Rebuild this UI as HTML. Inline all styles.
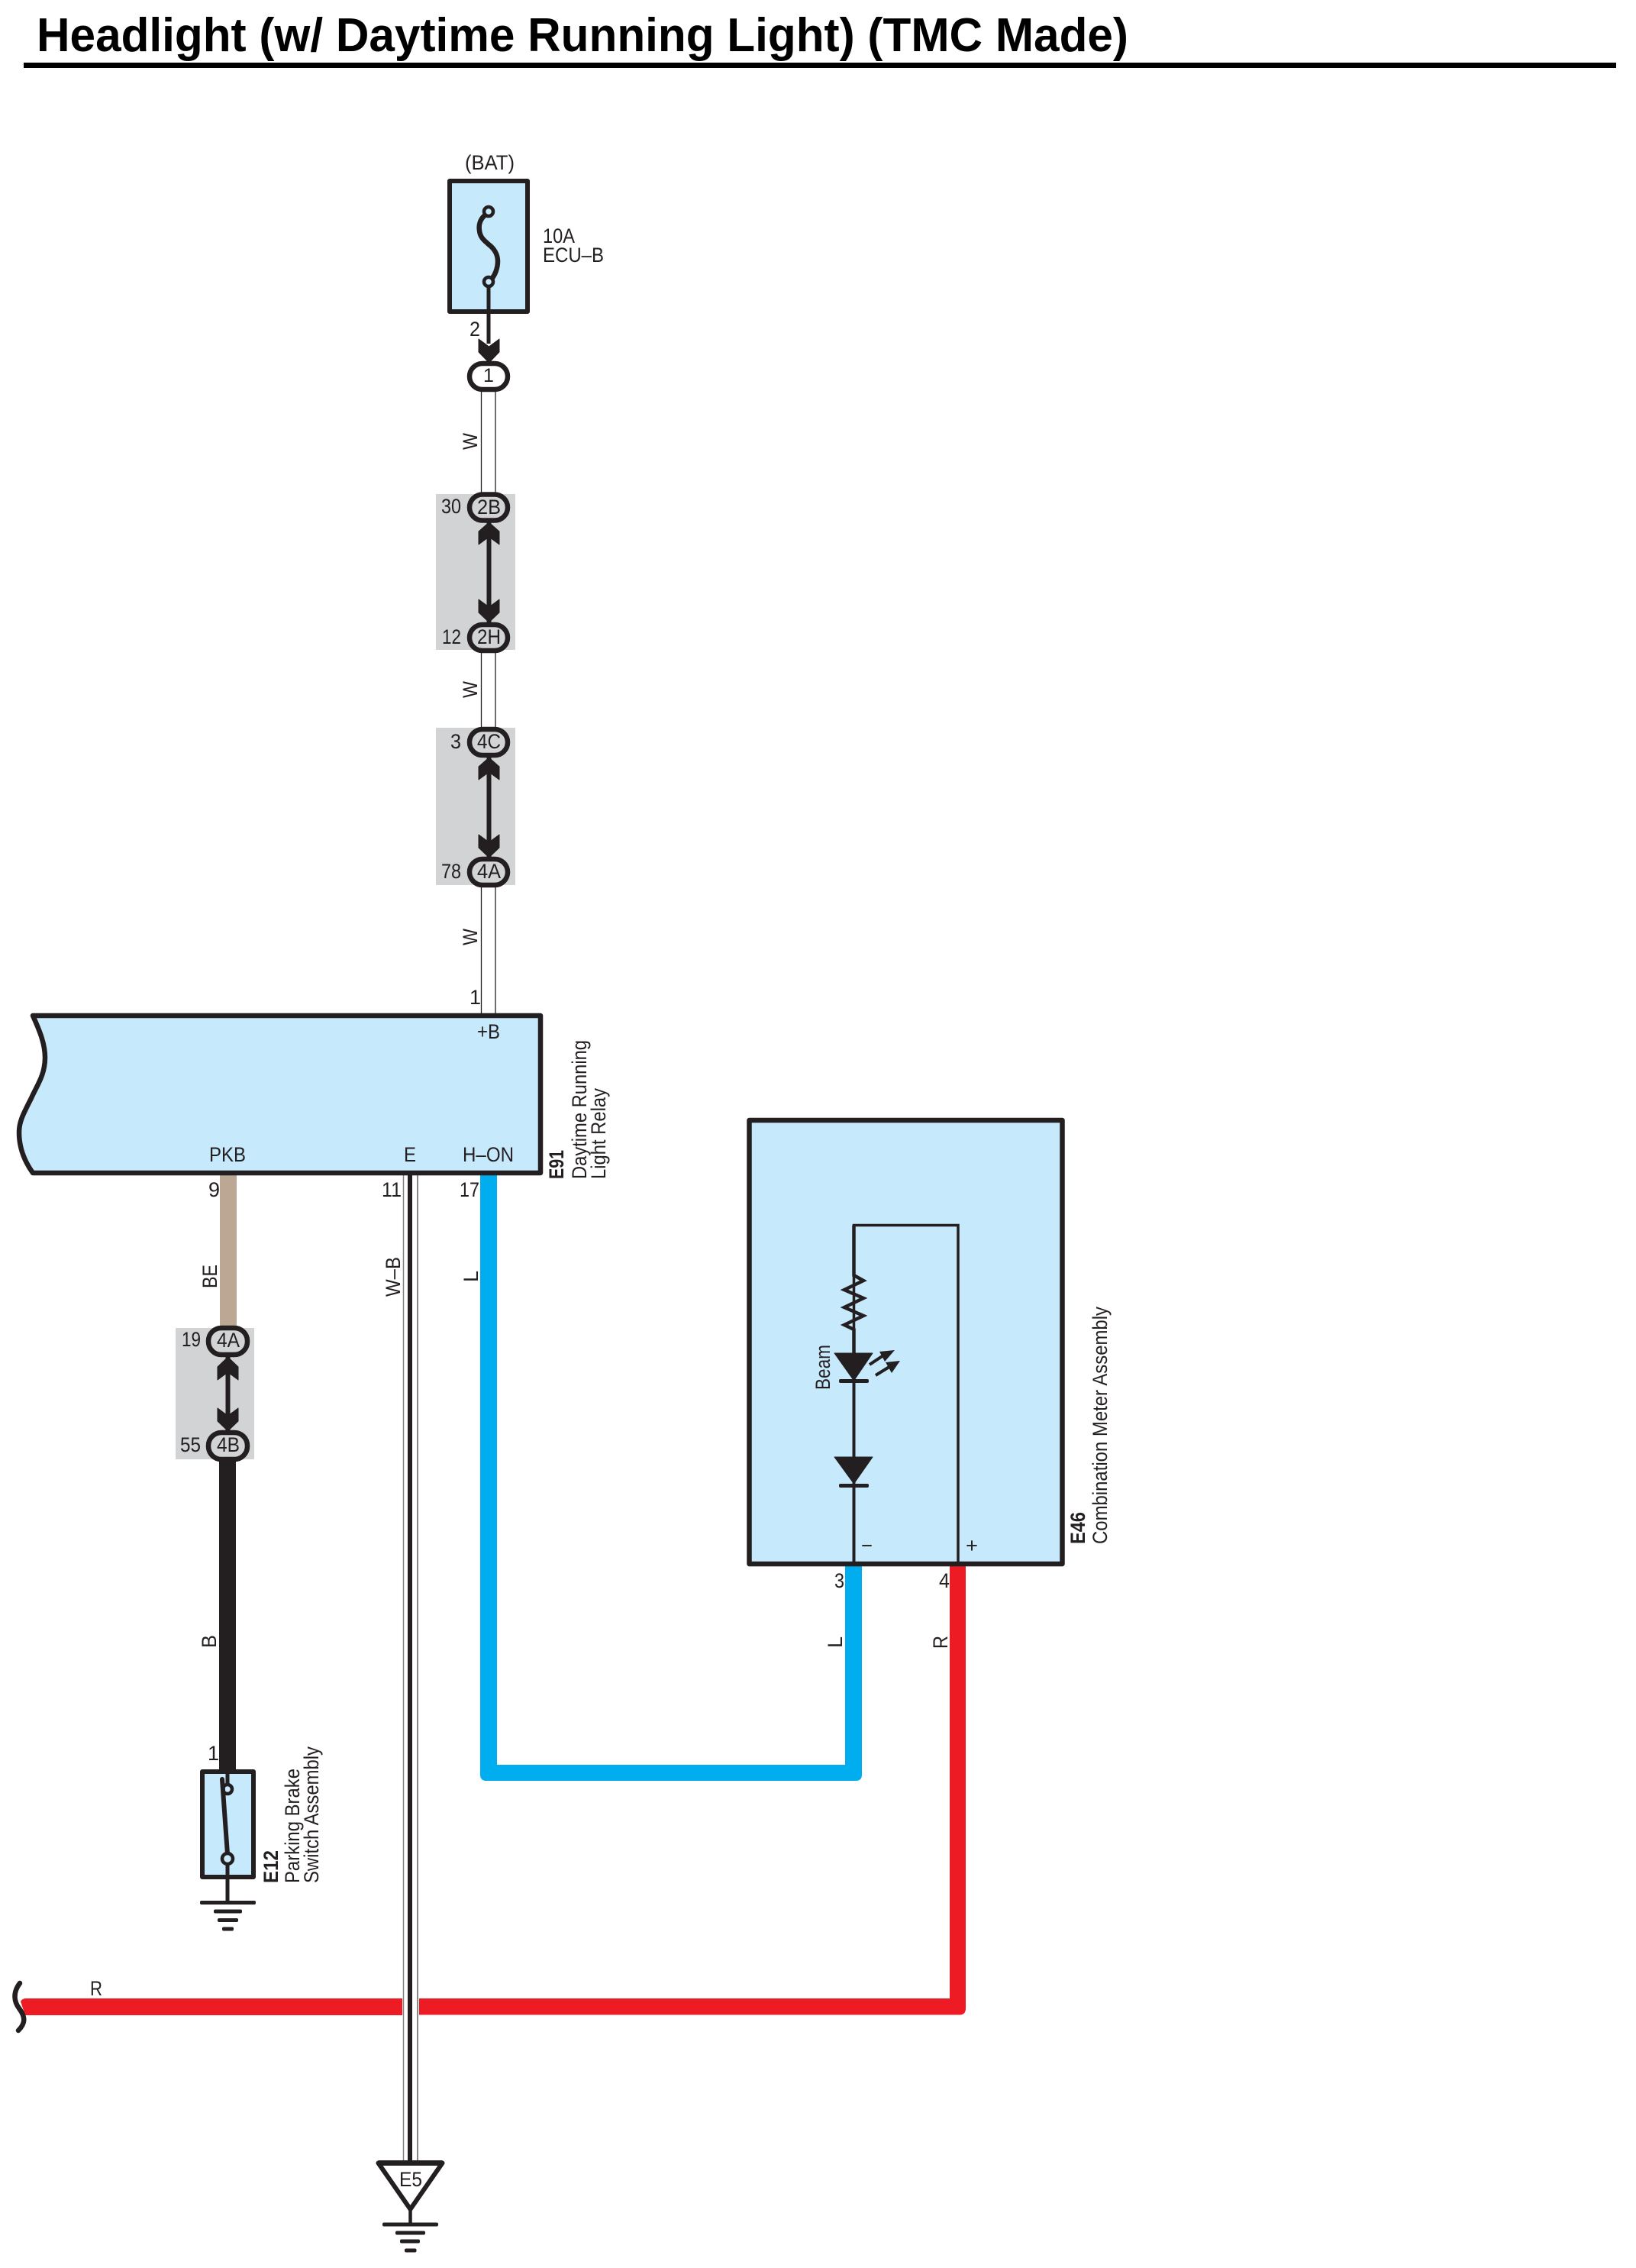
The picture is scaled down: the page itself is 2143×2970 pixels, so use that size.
<!DOCTYPE html>
<html><head><meta charset="utf-8"><style>
html,body{margin:0;padding:0;background:#fff}
svg{display:block}
text{font-family:"Liberation Sans",Arial,sans-serif;fill:#231f20;font-size:27px}
.b{font-weight:bold}
</style></head><body>
<svg width="2143" height="2970" viewBox="0 0 2143 2970" xmlns="http://www.w3.org/2000/svg">
<rect width="2143" height="2970" fill="#fff"/>
<text x="48" y="67" class="b" style="font-size:62px;fill:#000" textLength="1430" lengthAdjust="spacingAndGlyphs">Headlight (w/ Daytime Running Light) (TMC Made)</text>
<rect x="31" y="82" width="2086" height="7" fill="#000"/>

<!-- gray splice boxes -->
<rect x="571" y="647" width="104" height="204" fill="#d1d3d4"/>
<rect x="571" y="953" width="104" height="206" fill="#d1d3d4"/>
<rect x="230" y="1739" width="103" height="172" fill="#d1d3d4"/>

<!-- thin W wires -->
<g stroke="#231f20" stroke-width="1.3" fill="none">
<path d="M630.5,513V645M649,513V645M630.5,855V953M649,855V953M630.5,1162V1328M649,1162V1328"/>
</g>

<!-- wires -->
<rect x="288" y="1539" width="22" height="198" fill="#bca795"/>
<rect x="287" y="1913" width="22" height="404" fill="#231f20"/>
<path d="M629,1539V2324Q629,2332 637,2332H1121Q1129,2332 1129,2324V2051H1107V2311H651V1539Z" fill="#00aeef"/>
<path d="M549,2617H1244V2051H1265V2630Q1265,2638.5 1257,2638.5H549Z" fill="#ed1c24"/>
<path d="M27,2621Q29,2617 34,2617H527V2639H33Z" fill="#ed1c24"/>

<!-- W-B wire -->
<path d="M528.5,1539V2830" stroke="#808080" stroke-width="1.5" fill="none"/>
<path d="M547,1539V2830" stroke="#555" stroke-width="1.4" fill="none"/>
<rect x="534" y="1539" width="6" height="1291" fill="#231f20"/>

<!-- squiggle -->
<path d="M26,2597C16,2610 19,2622 25,2630C34,2642 33,2650 24,2659" fill="none" stroke="#231f20" stroke-width="6.5" stroke-linecap="round"/>

<!-- Fuse box -->
<rect x="589" y="237" width="102" height="171" fill="#c7e9fc" stroke="#231f20" stroke-width="6" stroke-linejoin="round"/>
<path d="M635,282C628,288 627,296 628,302C629,312 636,316 640,320C648,326 652,334 652,342C652,352 648,360 645,364" fill="none" stroke="#231f20" stroke-width="6.5"/>
<circle cx="640" cy="277" r="6" fill="#c7e9fc" stroke="#231f20" stroke-width="4.5"/>
<circle cx="640" cy="369" r="6" fill="#c7e9fc" stroke="#231f20" stroke-width="4.5"/>
<path d="M640,375V450" stroke="#231f20" stroke-width="5" fill="none"/>

<!-- arrows -->
<g fill="#231f20" stroke="#231f20" stroke-width="1" stroke-linejoin="round">
<path d="M627,444L640.5,454L654,444V461L640.5,475L627,461Z"/>
<rect x="638" y="684" width="5" height="131"/>
<path d="M627,713L640.5,703L654,713V696L640.5,684L627,696Z"/>
<path d="M627,785L640.5,795L654,785V802L640.5,815L627,802Z"/>
<rect x="638" y="992" width="5" height="131"/>
<path d="M627,1021L640.5,1011L654,1021V1004L640.5,992L627,1004Z"/>
<path d="M627,1093L640.5,1103L654,1093V1110L640.5,1123L627,1110Z"/>
<rect x="296" y="1777" width="5" height="97"/>
<path d="M285,1807L298.5,1797L312,1807V1790L298.5,1777L285,1790Z"/>
<path d="M285,1844L298.5,1854L312,1844V1861L298.5,1874L285,1861Z"/>
</g>

<!-- connectors -->
<g stroke="#231f20" stroke-width="6.5">
<rect x="615" y="476" width="50" height="34" rx="17" fill="#fff"/>
<rect x="615" y="647.5" width="50" height="34" rx="17" fill="#d1d3d4"/>
<rect x="615" y="818" width="50" height="34" rx="17" fill="#d1d3d4"/>
<rect x="615" y="955" width="50" height="34" rx="17" fill="#d1d3d4"/>
<rect x="615" y="1125" width="50" height="34" rx="17" fill="#d1d3d4"/>
<rect x="273" y="1739" width="51" height="35" rx="17" fill="#d1d3d4"/>
<rect x="273" y="1876" width="51" height="35" rx="17" fill="#d1d3d4"/>
</g>

<!-- E91 -->
<path d="M43,1330H708V1536H43C33,1522 25,1505 25,1483C25,1468 31,1458 41,1438C48,1422 59,1408 59,1385C59,1368 53,1352 43,1330Z" fill="#c7e9fc" stroke="#231f20" stroke-width="6.5" stroke-linejoin="round"/>

<!-- E46 -->
<rect x="981.5" y="1467" width="410" height="581" fill="#c7e9fc" stroke="#231f20" stroke-width="6.5" stroke-linejoin="round"/>
<path d="M1118.5,2045V1604.5H1255V2045" fill="none" stroke="#231f20" stroke-width="3.5"/>
<path d="M1118.5,1604.5V1670L1131,1677L1106,1689L1131,1700L1106,1712L1131,1723L1106,1735L1118.5,1741V1775" fill="none" stroke="#231f20" stroke-width="4.5"/>
<rect x="1116.5" y="1741" width="4" height="304" fill="#231f20"/>
<g fill="#231f20">
<path d="M1093,1772H1143L1118.5,1808Z" stroke="#231f20" stroke-width="1" stroke-linejoin="round"/>
<rect x="1099" y="1806" width="39" height="5" rx="2"/>
<path d="M1093,1908H1143L1118.5,1943Z" stroke="#231f20" stroke-width="1" stroke-linejoin="round"/>
<rect x="1099" y="1943" width="39" height="5" rx="2"/>
<path d="M1172,1768L1152,1770L1159,1783Z"/>
<path d="M1179,1782L1160,1784L1168,1798Z"/>
</g>
<path d="M1139,1787L1160,1773M1147,1801L1168,1788" stroke="#231f20" stroke-width="4" fill="none"/>

<!-- E12 -->
<rect x="265" y="2320" width="67" height="138" fill="#c7e9fc" stroke="#231f20" stroke-width="6" stroke-linejoin="round"/>
<path d="M298,2320V2337" stroke="#231f20" stroke-width="5" fill="none"/>
<circle cx="298" cy="2343" r="6" fill="#c7e9fc" stroke="#231f20" stroke-width="4.5"/>
<path d="M291,2330L298,2428" stroke="#231f20" stroke-width="6" fill="none" stroke-linecap="round"/>
<path d="M298,2441V2491" stroke="#231f20" stroke-width="5" fill="none"/>
<circle cx="298" cy="2434" r="7" fill="#c7e9fc" stroke="#231f20" stroke-width="4.5"/>
<g fill="#231f20">
<rect x="262" y="2489" width="73" height="5" rx="2"/>
<rect x="280" y="2500.5" width="37" height="5" rx="2"/>
<rect x="285" y="2512" width="27" height="5" rx="2"/>
<rect x="291" y="2523.5" width="15" height="5" rx="2"/>
</g>

<!-- E5 ground -->
<path d="M495.5,2832.5H579.5L537.5,2893Z" fill="#fff" stroke="#231f20" stroke-width="6" stroke-linejoin="round"/>
<path d="M495.5,2829H579.5V2836H495.5Z" fill="#231f20"/>
<path d="M537.5,2893V2913" stroke="#231f20" stroke-width="4.5" fill="none"/>
<g fill="#231f20">
<rect x="501" y="2910.5" width="73" height="5" rx="2"/>
<rect x="518" y="2921.5" width="39" height="5" rx="2"/>
<rect x="524" y="2932.5" width="26" height="5" rx="2"/>
<rect x="530" y="2944.5" width="15.5" height="5" rx="2"/>
</g>

<!-- labels -->
<text x="609" y="222" textLength="65" lengthAdjust="spacingAndGlyphs">(BAT)</text>
<text x="711" y="318" textLength="42" lengthAdjust="spacingAndGlyphs">10A</text>
<text x="711" y="343" textLength="80" lengthAdjust="spacingAndGlyphs">ECU–B</text>
<text x="615" y="440" textLength="14" lengthAdjust="spacingAndGlyphs">2</text>
<text x="640" y="500" text-anchor="middle" style="font-size:25px">1</text>
<text x="578" y="672" textLength="26" lengthAdjust="spacingAndGlyphs">30</text>
<text x="625" y="673" textLength="31" lengthAdjust="spacingAndGlyphs">2B</text>
<text x="579" y="843" textLength="25" lengthAdjust="spacingAndGlyphs">12</text>
<text x="625" y="843" textLength="31" lengthAdjust="spacingAndGlyphs">2H</text>
<text x="590" y="980" textLength="14" lengthAdjust="spacingAndGlyphs">3</text>
<text x="625" y="980" textLength="31" lengthAdjust="spacingAndGlyphs">4C</text>
<text x="578" y="1150" textLength="26" lengthAdjust="spacingAndGlyphs">78</text>
<text x="625" y="1150" textLength="31" lengthAdjust="spacingAndGlyphs">4A</text>
<text x="615" y="1315">1</text>
<text x="625" y="1360" textLength="30" lengthAdjust="spacingAndGlyphs">+B</text>
<text x="274" y="1521" textLength="48" lengthAdjust="spacingAndGlyphs">PKB</text>
<text x="529" y="1521" textLength="16" lengthAdjust="spacingAndGlyphs">E</text>
<text x="606" y="1521" textLength="67" lengthAdjust="spacingAndGlyphs">H–ON</text>
<text x="273" y="1567" textLength="15" lengthAdjust="spacingAndGlyphs">9</text>
<text x="500" y="1567" textLength="26" lengthAdjust="spacingAndGlyphs">11</text>
<text x="602" y="1567" textLength="26" lengthAdjust="spacingAndGlyphs">17</text>
<text x="238" y="1763" textLength="25" lengthAdjust="spacingAndGlyphs">19</text>
<text x="284" y="1764" textLength="30" lengthAdjust="spacingAndGlyphs">4A</text>
<text x="236" y="1901" textLength="27" lengthAdjust="spacingAndGlyphs">55</text>
<text x="284" y="1901" textLength="30" lengthAdjust="spacingAndGlyphs">4B</text>
<text x="272" y="2305">1</text>
<text x="118" y="2613" textLength="16" lengthAdjust="spacingAndGlyphs">R</text>
<text x="523" y="2863" textLength="30" lengthAdjust="spacingAndGlyphs">E5</text>
<text x="1093" y="2079" textLength="13" lengthAdjust="spacingAndGlyphs">3</text>
<text x="1230" y="2079" textLength="14" lengthAdjust="spacingAndGlyphs">4</text>
<text x="1128" y="2033" textLength="15" lengthAdjust="spacingAndGlyphs">−</text>
<text x="1265" y="2033" textLength="16" lengthAdjust="spacingAndGlyphs">+</text>

<!-- rotated labels -->
<text transform="translate(625,589) rotate(-90)" textLength="22" lengthAdjust="spacingAndGlyphs">W</text>
<text transform="translate(625,914) rotate(-90)" textLength="22" lengthAdjust="spacingAndGlyphs">W</text>
<text transform="translate(625,1238) rotate(-90)" textLength="22" lengthAdjust="spacingAndGlyphs">W</text>
<text transform="translate(284,1687) rotate(-90)" textLength="31" lengthAdjust="spacingAndGlyphs">BE</text>
<text transform="translate(524,1698) rotate(-90)" textLength="52" lengthAdjust="spacingAndGlyphs">W–B</text>
<text transform="translate(626,1679) rotate(-90)" textLength="15" lengthAdjust="spacingAndGlyphs">L</text>
<text transform="translate(283,2158) rotate(-90)" textLength="17" lengthAdjust="spacingAndGlyphs">B</text>
<text transform="translate(1103,2158) rotate(-90)" textLength="15" lengthAdjust="spacingAndGlyphs">L</text>
<text transform="translate(1241,2159) rotate(-90)" textLength="17" lengthAdjust="spacingAndGlyphs">R</text>
<text transform="translate(1087,1820) rotate(-90)" textLength="59" lengthAdjust="spacingAndGlyphs">Beam</text>
<text class="b" transform="translate(738,1544) rotate(-90)" textLength="38" lengthAdjust="spacingAndGlyphs">E91</text>
<text transform="translate(768,1544) rotate(-90)" textLength="182" lengthAdjust="spacingAndGlyphs">Daytime Running</text>
<text transform="translate(793,1544) rotate(-90)" textLength="119" lengthAdjust="spacingAndGlyphs">Light Relay</text>
<text class="b" transform="translate(364,2466) rotate(-90)" textLength="43" lengthAdjust="spacingAndGlyphs">E12</text>
<text transform="translate(392,2466) rotate(-90)" textLength="150" lengthAdjust="spacingAndGlyphs">Parking Brake</text>
<text transform="translate(417,2466) rotate(-90)" textLength="179" lengthAdjust="spacingAndGlyphs">Switch Assembly</text>
<text class="b" transform="translate(1421,2022) rotate(-90)" textLength="42" lengthAdjust="spacingAndGlyphs">E46</text>
<text transform="translate(1450,2022) rotate(-90)" textLength="311" lengthAdjust="spacingAndGlyphs">Combination Meter Assembly</text>
</svg>
</body></html>
